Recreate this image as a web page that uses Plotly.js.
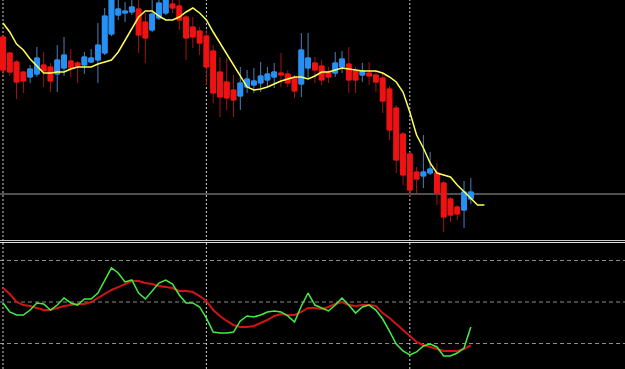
<!DOCTYPE html>
<html><head><meta charset="utf-8">
<script src="https://cdn.plot.ly/plotly-3.0.1.min.js"></script>
<style>html,body{margin:0;padding:0;background:#000;}#chart{width:625px;height:369px;}</style>
</head><body><div id="chart"></div>
<script>
// Price data (arbitrary price units), one bar per index
const openP  = [213,197,188,178,173,176,185,183,176,182,189,187,185,188,190,197,216,235,237,238,241,228,220,232,237,246,244,233,223,219,214,199,178,168,160,154,163,165,167,170,173,177,176,172,166,182,187,184,178,177,183,186,179,175,177,175,172,161,142,116,96,78,74,77,77,67,51,43,40,51];
const highP  = [215,198,190,179,185,203,198,187,205,213,201,189,198,201,227,242,260,250,248,252,253,237,252,253,256,252,251,235,233,223,220,205,193,192,175,183,180,182,188,183,187,197,180,175,217,217,193,190,183,198,199,203,183,187,188,180,177,164,145,118,98,83,115,98,87,69,53,45,69,72];
const lowP   = [175,174,151,157,167,173,163,158,158,174,173,167,176,187,167,195,214,230,228,235,197,187,218,230,235,237,220,190,202,195,165,147,133,140,133,140,157,157,158,163,162,163,163,152,153,172,167,165,167,173,177,157,157,168,165,158,137,110,77,65,53,57,62,75,45,18,28,30,22,46];
const closeP = [180,178,168,169,181,192,179,169,190,195,182,184,193,192,205,234,254,241,239,243,215,212,236,247,252,242,230,212,213,207,183,157,153,152,150,167,171,169,174,176,178,175,167,159,200,192,180,170,173,187,191,170,170,179,174,168,149,120,90,75,60,71,78,81,57,33,35,36,58,58];
// Moving average (drawn 2 bars past the last candle)
const maP = [227,218,206,200,191,184,177,177,178,178,181,183,183,183,186,188,190,198,210,222,233,239,239,234,230,230,233,238,242,237,230,218,207,195,184,173,163,160,161,163,166,169,171,173,173,171,174,178,178,180,182,181,180,179,179,179,177,173,168,158,138,115,102,87,77,75,73,65,58,51,45,45];
// Stochastic oscillator
const stochK = [49.3,42.8,40.6,40.6,44.2,49.3,48.6,44.2,47.8,52.9,49.3,47.8,52.2,52.2,56.5,65.9,74.6,71.0,64.5,65.9,56.5,52.2,58.0,63.7,65.9,63.0,55.1,49.3,49.3,46.4,38.4,28.3,27.6,27.6,28.3,36.3,39.9,39.2,40.6,42.8,43.5,42.8,39.9,35.5,47.1,56.5,47.8,45.7,43.5,47.8,52.9,47.8,42.0,46.4,47.8,44.2,37.7,29.0,19.6,14.6,11.7,13.9,18.2,19.6,17.5,11.0,11.0,13.1,16.7,31.9];
const stochD = [60.1,55.8,50.0,47.8,47.1,45.7,44.2,44.2,45.7,47.1,47.8,48.6,48.6,50.0,52.9,55.8,58.7,60.8,63.0,65.2,65.2,63.7,63.0,61.6,60.8,60.1,58.0,58.0,57.2,54.3,50.7,44.2,39.9,36.3,33.4,31.9,31.9,32.7,34.8,37.0,39.9,41.3,40.6,40.6,42.8,45.7,45.7,44.9,46.4,48.6,50.0,47.8,47.1,47.8,47.8,47.1,42.0,38.4,34.1,29.8,25.4,21.1,18.9,17.5,16.0,14.6,14.6,14.6,16.0,18.9];
const stochLevels = [80,50,20];
const separatorBars = [0,30,60];
const currentPrice = 56;

const idx = openP.map((_, i) => i);
const maIdx = maP.map((_, i) => i);
const bodyHigh = openP.map((o, i) => Math.max(o, closeP[i]));
const bodyLow = openP.map((o, i) => Math.min(o, closeP[i]));

const BLUE = '#2590f5', BLUE_W = '#4a7fbd', RED = '#f01212', RED_W = '#a01515';

const traces = [
  { type: 'candlestick', x: idx, open: openP, high: highP, low: lowP, close: closeP,
    increasing: { line: { color: BLUE_W, width: 1 }, fillcolor: BLUE_W },
    decreasing: { line: { color: RED_W, width: 1 }, fillcolor: RED_W },
    whiskerwidth: 0, hoverinfo: 'skip', showlegend: false, xaxis: 'x', yaxis: 'y' },
  { type: 'candlestick', x: idx, open: openP, high: bodyHigh, low: bodyLow, close: closeP,
    increasing: { line: { color: BLUE, width: 1 }, fillcolor: BLUE },
    decreasing: { line: { color: RED, width: 1 }, fillcolor: RED },
    whiskerwidth: 0, hoverinfo: 'skip', showlegend: false, xaxis: 'x', yaxis: 'y' },
  { type: 'scatter', mode: 'lines', x: maIdx, y: maP, line: { color: '#ffff55', width: 1.5 },
    hoverinfo: 'skip', showlegend: false, xaxis: 'x', yaxis: 'y' },
  { type: 'scatter', mode: 'lines', x: idx, y: stochD, line: { color: '#d01515', width: 2 },
    hoverinfo: 'skip', showlegend: false, xaxis: 'x', yaxis: 'y2' },
  { type: 'scatter', mode: 'lines', x: idx, y: stochK, line: { color: '#44ee44', width: 1.5 },
    hoverinfo: 'skip', showlegend: false, xaxis: 'x', yaxis: 'y2' }
];

const shapes = [];
shapes.push({ type: 'line', xref: 'paper', x0: 0, x1: 1, yref: 'y', y0: currentPrice, y1: currentPrice,
  line: { color: '#a0a0a0', width: 1 }, layer: 'below' });
stochLevels.forEach(v => shapes.push({ type: 'line', xref: 'paper', x0: 0, x1: 1, yref: 'y2', y0: v, y1: v,
  line: { color: '#8a8a8a', width: 1, dash: '4px,3px' }, layer: 'below' }));
separatorBars.forEach(b => shapes.push({ type: 'line', xref: 'x', x0: b, x1: b, yref: 'paper', y0: 0, y1: 1,
  line: { color: '#d0d0d0', width: 1, dash: '2px,2px' }, layer: 'below' }));
shapes.push({ type: 'line', xref: 'paper', x0: 0, x1: 1, yref: 'paper', y0: 1 - 240.5/369, y1: 1 - 240.5/369,
  line: { color: '#c8c8c8', width: 1 } });
shapes.push({ type: 'line', xref: 'paper', x0: 0, x1: 1, yref: 'paper', y0: 1 - 242.5/369, y1: 1 - 242.5/369,
  line: { color: '#e0e0e0', width: 1 } });

const layout = {
  width: 625, height: 369, margin: { l: 0, r: 0, t: 0, b: 0 },
  paper_bgcolor: '#000', plot_bgcolor: '#000', showlegend: false,
  boxgap: 0.3, boxgroupgap: 0,
  xaxis: { range: [-0.4425, 91.74], visible: false, rangeslider: { visible: false }, fixedrange: true },
  yaxis: { domain: [1 - 239/369, 1], range: [11, 250], visible: false, fixedrange: true },
  yaxis2: { domain: [0, 1 - 243/369], range: [1.57, 92.65], visible: false, anchor: 'x', fixedrange: true },
  shapes: shapes
};

Plotly.newPlot('chart', traces, layout, { staticPlot: true, displayModeBar: false });
</script></body></html>
